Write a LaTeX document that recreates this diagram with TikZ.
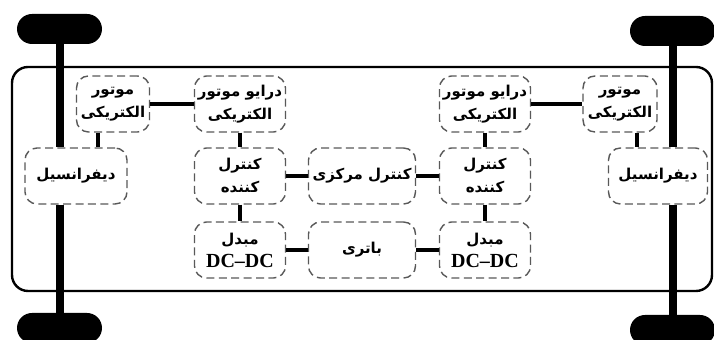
\documentclass[tikz,border=0pt]{standalone}
\usepackage{fontspec}
\setmainfont{Liberation Serif}
\newfontfamily\farsifont[Script=Arabic]{DejaVu Sans}
\TeXXeTstate=1
\usetikzlibrary{calc}
\newcommand{\fatxt}[1]{{\farsifont\bfseries\beginR #1\endR}}
\newcommand{\dctxt}{{\fontsize{10}{12}\selectfont\bfseries DC--DC}}

\begin{document}
\begin{tikzpicture}[x=0.5pt,y=-0.5pt,
    part/.style={draw=black!65, dash pattern=on 4pt off 2.2pt, line width=0.7pt,
        rounded corners=6pt, fill=white, align=center, inner sep=0pt,
        minimum height=28pt, font=\fontsize{7.5}{11.5}\selectfont},
    wheel/.style={fill=black, rounded corners=7.5pt, minimum width=42.5pt,
        minimum height=15pt, inner sep=0pt},
    axle/.style={line width=4pt},
    link/.style={line width=2pt}]
        \useasboundingbox (0,0) rectangle (714,340);
        \draw[line width=1.2pt, rounded corners=8pt] (12,67) rectangle (712,291);
        \node[wheel] (wtl) at (59.5,29) {};
        \node[wheel] (wbl) at (59.5,328) {};
        \node[wheel] (wtr) at (672.5,31) {};
        \node[wheel] (wbr) at (672.5,330) {};
        \node[part, minimum width=36.5pt] (motl) at (113,104) {\fatxt{موتور}\\\fatxt{الکتریکی}};
        \node[part, minimum width=45.5pt] (drvl) at (240,104) {\fatxt{درایو موتور}\\\fatxt{الکتریکی}};
        \node[part, minimum width=51pt] (difl) at (76,176) {\fatxt{دیفرانسیل}};
        \node[part, minimum width=45.5pt] (ctrl) at (240,176) {\fatxt{کنترل}\\\fatxt{کننده}};
        \node[part, minimum width=53.5pt] (cen) at (362,176) {\fatxt{کنترل مرکزی}};
        \node[part, minimum width=45.5pt] (ctrr) at (485,176) {\fatxt{کنترل}\\\fatxt{کننده}};
        \node[part, minimum width=45.5pt] (drvr) at (485,104) {\fatxt{درایو موتور}\\\fatxt{الکتریکی}};
        \node[part, minimum width=37pt] (motr) at (620,104) {\fatxt{موتور}\\\fatxt{الکتریکی}};
        \node[part, minimum width=49.5pt] (difr) at (658,176) {\fatxt{دیفرانسیل}};
        \node[part, minimum width=45.5pt] (dcl) at (240,250) {\fatxt{مبدل}\\\dctxt};
        \node[part, minimum width=53.5pt] (bat) at (362,250) {\fatxt{باتری}};
        \node[part, minimum width=45.5pt] (dcr) at (485,250) {\fatxt{مبدل}\\\dctxt};
        \draw[axle] (wtl) -- (wtl |- difl.north);
        \draw[axle] (wbl) -- (wbl |- difl.south);
        \draw[axle] (wtr) -- (wtr |- difr.north);
        \draw[axle] (wbr) -- (wbr |- difr.south);
        \draw[link] (motl) -- (drvl);
        \draw[link] ([xshift=-7.5pt]motl.south) -- ([xshift=-7.5pt]motl.south |- difl.north);
        \draw[link] (drvl) -- (ctrl);
        \draw[link] (ctrl) -- (cen);
        \draw[link] (ctrl) -- (dcl);
        \draw[link] (dcl) -- (bat);
        \draw[link] (cen) -- (ctrr);
        \draw[link] (bat) -- (dcr);
        \draw[link] (drvr) -- (ctrr);
        \draw[link] (ctrr) -- (dcr);
        \draw[link] (drvr) -- (motr);
        \draw[link] ([xshift=8.5pt]motr.south) -- ([xshift=8.5pt]motr.south |- difr.north);
    \end{tikzpicture}
\end{document}
